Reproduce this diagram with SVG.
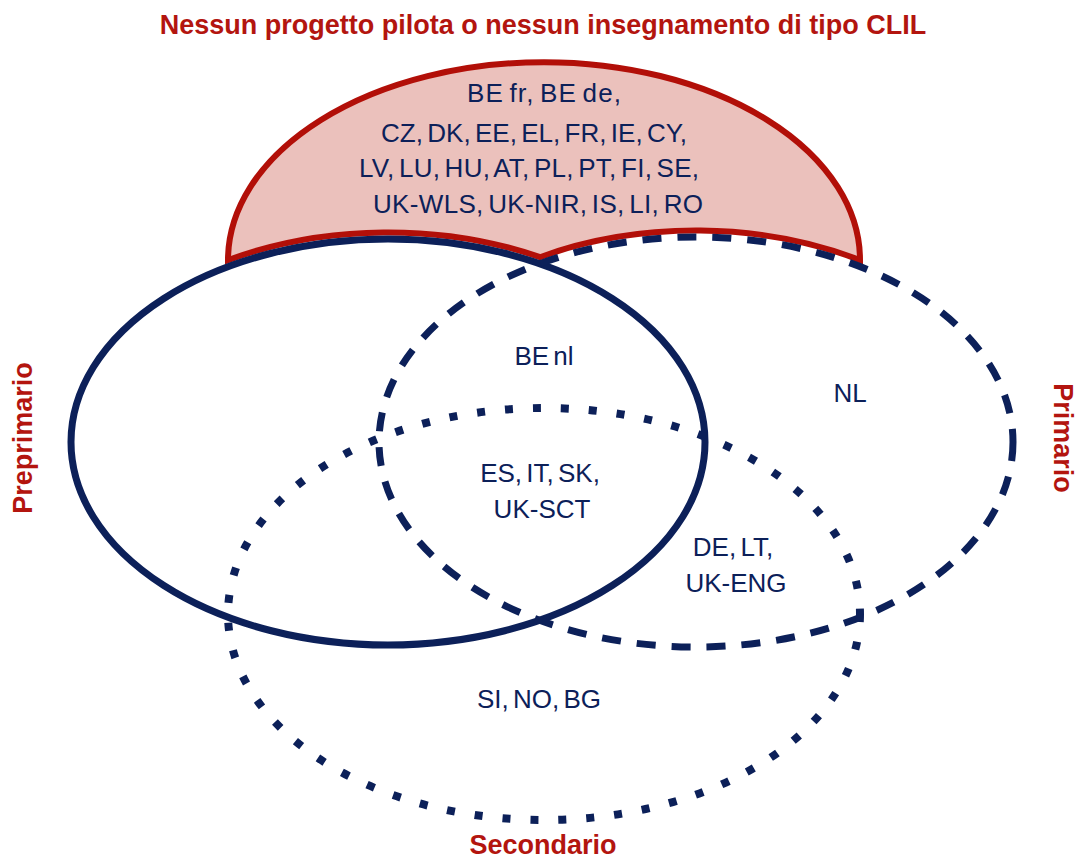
<svg xmlns="http://www.w3.org/2000/svg" width="1076" height="858" viewBox="0 0 1076 858">
<style>
.hdr{font-family:"Liberation Sans",Arial,sans-serif;font-weight:bold;font-size:27px;fill:#b3150f;text-anchor:middle}
.lbl{font-family:"Liberation Sans",Arial,sans-serif;font-size:26px;fill:#0c2059;text-anchor:middle;word-spacing:-3px}
.solid{fill:none;stroke:#0c2059;stroke-width:7}
.dash{fill:none;stroke:#0c2059;stroke-width:7;stroke-dasharray:19 16}
.dot{fill:none;stroke:#0c2059;stroke-width:8;stroke-dasharray:8 20}
</style>
<rect width="1076" height="858" fill="#ffffff"/>
<g id="none">
<path d="M228 260.2 A316 198 0 0 1 860 260.1 A317 205 0 0 0 540 257.2 A317 203 0 0 0 228 260.2 Z" fill="#ebc1bc" stroke="#b20f08" stroke-width="6" stroke-linejoin="miter"/>
<text class="lbl" x="544" y="102" textLength="154">BE fr, BE de,</text>
<text class="lbl" x="534" y="142" textLength="306">CZ, DK, EE, EL, FR, IE, CY,</text>
<text class="lbl" x="529" y="177" textLength="340">LV, LU, HU, AT, PL, PT, FI, SE,</text>
<text class="lbl" x="538" y="213" textLength="330">UK-WLS, UK-NIR, IS, LI, RO</text>
</g>
<g id="preprimario">
<ellipse class="solid" cx="388" cy="442" rx="317" ry="203"/>
</g>
<g id="primario">
<ellipse class="dash" cx="696" cy="442" rx="317" ry="205"/>
</g>
<g id="secondario">
<ellipse class="dot" cx="544" cy="614" rx="316" ry="206"/>
</g>
<g id="labels">
<text class="lbl" x="544" y="365">BE nl</text>
<text class="lbl" x="850" y="402">NL</text>
<text class="lbl" x="540" y="482">ES, IT, SK,</text>
<text class="lbl" x="542" y="518">UK-SCT</text>
<text class="lbl" x="733" y="556">DE, LT,</text>
<text class="lbl" x="736" y="592">UK-ENG</text>
<text class="lbl" x="539" y="708">SI, NO, BG</text>
</g>
<g id="headers">
<text class="hdr" x="543" y="34">Nessun progetto pilota o nessun insegnamento di tipo CLIL</text>
<text class="hdr" transform="translate(32,438) rotate(-90)">Preprimario</text>
<text class="hdr" transform="translate(1054,438) rotate(90)">Primario</text>
<text class="hdr" x="543" y="854">Secondario</text>
</g>
<g id="connectors"></g>
</svg>
